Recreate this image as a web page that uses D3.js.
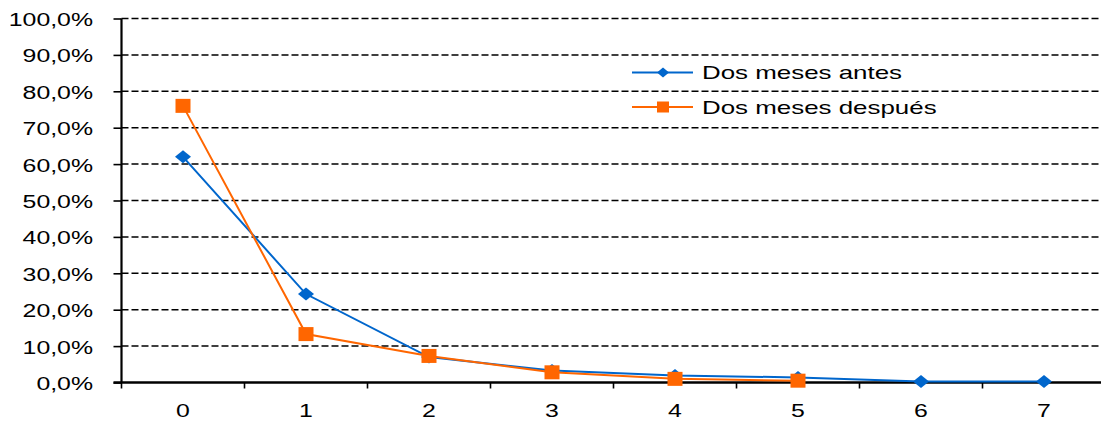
<!DOCTYPE html>
<html>
<head>
<meta charset="utf-8">
<script src="https://cdn.jsdelivr.net/npm/d3@7/dist/d3.min.js"></script>
<style>
  html, body { margin: 0; padding: 0; background: #fff; }
  svg { display: block; }
  text { font-family: "Liberation Sans", Arial, sans-serif; fill: #000; }
</style>
</head>
<body>
<svg id="chart" width="1101" height="421"></svg>
<script>
// Categories (number of events) and the two series in percent
const categories = ["0", "1", "2", "3", "4", "5", "6", "7"];
const antes = [62.0, 24.3, 7.0, 3.3, 1.9, 1.4, 0.3, 0.3];
const despues = [76.0, 13.3, 7.3, 2.8, 1.0, 0.5];
const yTicks = [0, 10, 20, 30, 40, 50, 60, 70, 80, 90, 100];
const seriesNames = ["Dos meses antes", "Dos meses después"];
const colors = ["#0066CC", "#FF6600"];

const svg = d3.select("#chart");
const plotLeft = 121.5, plotRight = 1105.5, plotTop = 18.5, plotBottom = 382.5;
const stretch = 1.38; // wide lettering

const x = d3.scaleBand().domain(categories).range([plotLeft, plotRight]);
const y = d3.scaleLinear().domain([0, 100]).range([plotBottom, plotTop]);

const fmt = v => d3.format(".1f")(v).replace(".", ",") + "%";

// horizontal gridlines
svg.append("g").selectAll("line")
  .data(yTicks.filter(t => t > 0))
  .join("line")
  .attr("x1", plotLeft).attr("x2", 1101)
  .attr("y1", d => y(d)).attr("y2", d => y(d))
  .attr("stroke", "#000").attr("stroke-width", 1.5)
  .attr("stroke-dasharray", "7,3");

// y axis
const yAxis = svg.append("g").attr("transform", `translate(${plotLeft},0)`)
  .call(d3.axisLeft(y).tickValues(yTicks).tickSize(8).tickFormat(""));
yAxis.select(".domain").attr("stroke", "#000").attr("stroke-width", 2.2)
  .attr("d", `M0,${plotTop}V${plotBottom}`);
yAxis.selectAll(".tick line").attr("stroke", "#000").attr("stroke-width", 1.6);

svg.append("g").selectAll("text")
  .data(yTicks)
  .join("text")
  .attr("text-anchor", "end")
  .attr("font-size", 18)
  .attr("transform", d => `translate(93,${y(d) + 7.5}) scale(${stretch},1)`)
  .text(fmt);

// x axis with ticks between categories
const xAxis = svg.append("g").attr("transform", `translate(0,${plotBottom})`);
xAxis.append("line").attr("x1", plotLeft - 8).attr("x2", 1101)
  .attr("stroke", "#000").attr("stroke-width", 2.4);
xAxis.selectAll(".tk")
  .data(categories)
  .join("line")
  .attr("class", "tk")
  .attr("x1", d => x(d)).attr("x2", d => x(d))
  .attr("y1", 0).attr("y2", 6)
  .attr("stroke", "#000").attr("stroke-width", 1.6);
xAxis.selectAll("text")
  .data(categories)
  .join("text")
  .attr("text-anchor", "middle")
  .attr("font-size", 18)
  .attr("transform", d => `translate(${x(d) + x.bandwidth() / 2},34) scale(${stretch},1)`)
  .text(d => d);

const cx = i => x(categories[i]) + x.bandwidth() / 2;
const line = d3.line().x((d, i) => cx(i)).y(d => y(d));

const diamond = (g, w, h) => g.append("path")
  .attr("d", `M0,${-h / 2}L${w / 2},0L0,${h / 2}L${-w / 2},0Z`);
const square = (g, w, h) => g.append("rect")
  .attr("x", -w / 2).attr("y", -h / 2).attr("width", w).attr("height", h);

// series
[antes, despues].forEach((data, s) => {
  const g = svg.append("g");
  g.append("path").datum(data).attr("d", line)
    .attr("fill", "none").attr("stroke", colors[s]).attr("stroke-width", 2);
  data.forEach((v, i) => {
    const m = g.append("g").attr("transform", `translate(${cx(i)},${y(v)})`)
      .attr("fill", colors[s]);
    if (s === 0) diamond(m, 16, 13); else square(m, 15, 14);
  });
});

// legend
const legY = [72.5, 107];
seriesNames.forEach((name, s) => {
  const g = svg.append("g").attr("transform", `translate(0,${legY[s]})`);
  g.append("line").attr("x1", 632).attr("x2", 693)
    .attr("stroke", colors[s]).attr("stroke-width", 2);
  const m = g.append("g").attr("transform", "translate(663,0)").attr("fill", colors[s]);
  if (s === 0) diamond(m, 12, 10); else square(m, 12, 11);
  g.append("text")
    .attr("font-size", 18.5)
    .attr("transform", `translate(702,6.5) scale(1.4,1)`)
    .text(name);
});
</script>
</body>
</html>
